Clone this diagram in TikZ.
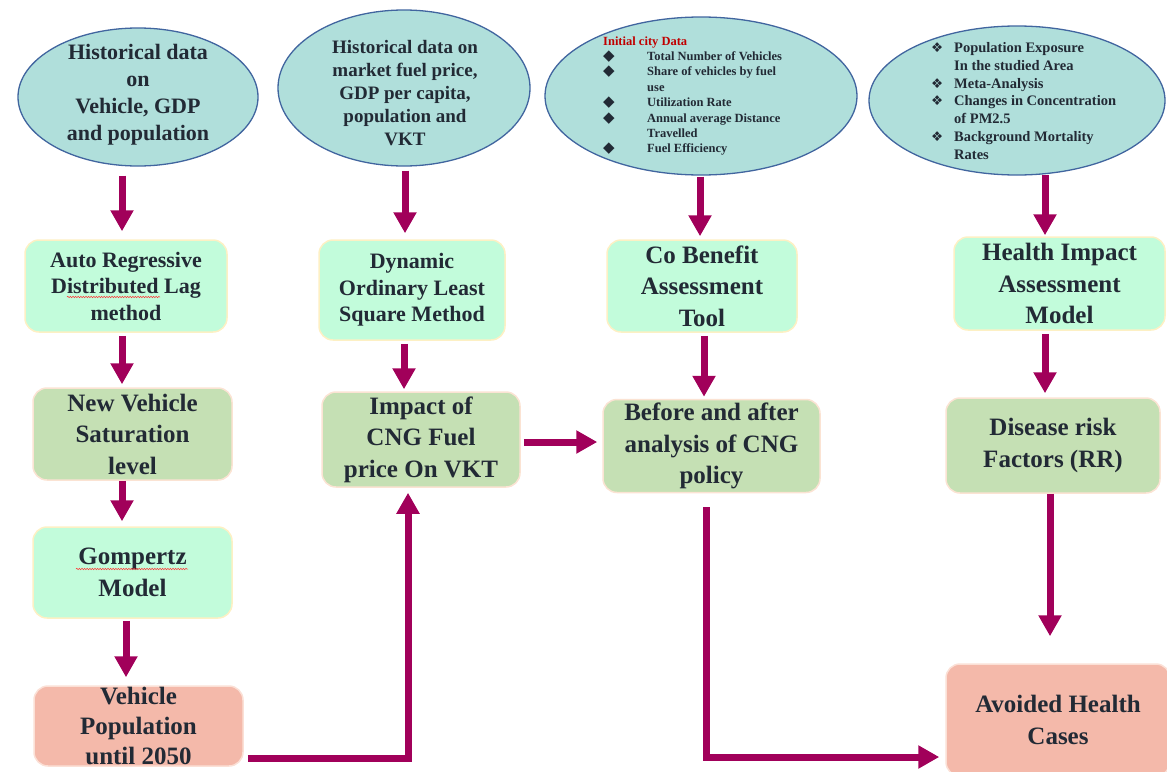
\documentclass[tikz,border=0pt]{standalone}
\usepackage{fontspec}
\setmainfont{Liberation Serif}
\newfontfamily\symfont{DejaVu Sans}
\usetikzlibrary{arrows.meta,decorations.pathmorphing,shapes.geometric}

\definecolor{ellfill}{HTML}{B0DFDB}
\definecolor{ellline}{HTML}{41659F}
\definecolor{mint}{HTML}{C2FCDB}
\definecolor{mintline}{HTML}{FDF0C4}
\definecolor{sage}{HTML}{C5E0B4}
\definecolor{sageline}{HTML}{FBE3D3}
\definecolor{salmon}{HTML}{F4B9AA}
\definecolor{salmonline}{HTML}{FBE0D6}
\definecolor{flow}{HTML}{A1005A}
\definecolor{ink}{HTML}{222A35}
\definecolor{titlered}{HTML}{C00000}

% bullets for the two listed data ellipses
\newcommand\cbul{\makebox[44pt][l]{{\symfont\fontsize{15}{15}\selectfont ◆}}}
\newcommand\cind{\hspace*{44pt}}
\newcommand\hbul{\makebox[23pt][l]{{\symfont\fontsize{13.5}{15}\selectfont ❖}}}
\newcommand\hind{\hspace*{23pt}}

\begin{document}
\begin{tikzpicture}[x=1pt,y=-1pt,
  every node/.style={text=ink, inner sep=0pt},
  datael/.style={ellipse, draw=ellline, line width=1.3pt, fill=ellfill},
  boxbase/.style={rectangle, rounded corners=14pt, line width=1.5pt, align=center,
    font=\bfseries\fontsize{25}{31.5}\selectfont},
  smalltext/.style={font=\bfseries\fontsize{22}{26.5}\selectfont},
  mintbox/.style={boxbase, fill=mint, draw=mintline},
  sagebox/.style={boxbase, fill=sage, draw=sageline},
  salmonbox/.style={boxbase, fill=salmon, draw=salmonline},
  arr/.style={draw=flow, line width=7pt, line join=miter,
    -{Triangle[width=22pt,length=21pt]}},
  squig/.style={draw=red!80, line width=0.5pt,
    decorate, decoration={snake, amplitude=0.7pt, segment length=2.6pt}}
]
\useasboundingbox (0,0) rectangle (1167,771);

% input data ellipses
\node[datael, minimum width=240, minimum height=138] (e1) at (138,97) {};
\node[datael, minimum width=252, minimum height=156] (e2) at (404,88) {};
\node[datael, minimum width=312, minimum height=158] (e3) at (701,96) {};
\node[datael, minimum width=296, minimum height=149] (e4) at (1017,100.5) {};

\node[align=center, font=\bfseries\fontsize{22}{27}\selectfont] (e1t) at (138,95)
  {Historical data\\on\\Vehicle, GDP\\and population};
\node[align=center, font=\bfseries\fontsize{19}{23}\selectfont] (e2t) at (405,93)
  {Historical data on\\market fuel price,\\GDP per capita,\\population and\\VKT};
\node[align=left, anchor=west, font=\bfseries\fontsize{12.5}{15.4}\selectfont] (e3t) at (603,96)
  {{\color{titlered}Initial city Data}\\
   \cbul Total Number of Vehicles\\
   \cbul Share of vehicles by fuel\\
   \cind use\\
   \cbul Utilization Rate\\
   \cbul Annual average Distance\\
   \cind Travelled\\
   \cbul Fuel Efficiency};
\node[align=left, anchor=west, font=\bfseries\fontsize{14.5}{17.7}\selectfont] (e4t) at (931,101)
  {\hbul Population Exposure\\
   \hind In the studied Area\\
   \hbul Meta-Analysis\\
   \hbul Changes in Concentration\\
   \hind of PM2.5\\
   \hbul Background Mortality\\
   \hind Rates};

% processing steps
\node[mintbox, smalltext, minimum width=202, minimum height=92] (b1) at (126,286)
  {Auto Regressive\\Distributed Lag\\method};
\node[sagebox, minimum width=199, minimum height=92] (b2) at (132.5,434)
  {New Vehicle\\Saturation\\level};
\node[mintbox, minimum width=199, minimum height=91] (b3) at (132.5,572.5)
  {Gompertz\\Model};
\node[salmonbox, minimum width=209, minimum height=80, font=\bfseries\fontsize{25}{30}\selectfont] (b4) at (138.5,726)
  {Vehicle\\Population\\until 2050};
\node[mintbox, smalltext, minimum width=186, minimum height=100] (b5) at (412,290)
  {Dynamic\\Ordinary Least\\Square Method};
\node[sagebox, minimum width=198, minimum height=95] (b6) at (421,439.5)
  {Impact of\\CNG Fuel\\price On VKT};
\node[mintbox, minimum width=190, minimum height=92] (b7) at (702,286)
  {Co Benefit\\Assessment\\Tool};
\node[sagebox, minimum width=217, minimum height=93] (b8) at (711.5,446)
  {Before and after\\analysis of CNG\\policy};
\node[mintbox, minimum width=211, minimum height=93] (b9) at (1059.5,283.5)
  {Health Impact\\Assessment\\Model};
\node[sagebox, minimum width=214, minimum height=95] (b10) at (1053,445.5)
  {Disease risk\\Factors (RR)};
\node[salmonbox, minimum width=224, minimum height=112] (b11) at (1058,720)
  {Avoided Health\\Cases};

% spell-check underlines
\draw[squig] (67,297) -- (160,297);
\draw[squig] (76,569) -- (188,569);

% connectors
\draw[arr, shorten <=9pt, shorten >=8pt] ([xshift=-16]e1.south) -- ([xshift=-16]e1.south |- b1.north);
\draw[arr, shorten <=3pt, shorten >=3pt] ([xshift=-4]b1.south) -- ([xshift=-4]b1.south |- b2.north);
\draw[arr, shorten >=5pt] ([xshift=-10.5]b2.south) -- ([xshift=-10.5]b2.south |- b3.north);
\draw[arr, shorten <=2pt, shorten >=8pt] ([xshift=-6.5]b3.south) -- ([xshift=-6.5]b3.south |- b4.north);

\draw[arr, shorten <=4pt, shorten >=6pt] ([xshift=1]e2.south) -- ([xshift=1]e2.south |- b5.north);
\draw[arr, shorten <=3pt, shorten >=2pt] ([xshift=-8]b5.south) -- ([xshift=-8]b5.south |- b6.north);

\draw[arr, shorten <=1pt, shorten >=3pt] ([xshift=-1]e3.south) -- ([xshift=-1]e3.south |- b7.north);
\draw[arr, shorten <=3pt, shorten >=2pt] ([xshift=2]b7.south) -- ([xshift=2]b7.south |- b8.north);

\draw[arr, shorten <=-1pt, shorten >=1pt] ([xshift=28]e4.south) -- ([xshift=28]e4.south |- b9.north);
\draw[arr, shorten <=3pt, shorten >=4pt] ([xshift=-14.5]b9.south) -- ([xshift=-14.5]b9.south |- b10.north);
\draw[arr, shorten >=27pt] ([xshift=-3]b10.south) -- ([xshift=-3]b10.south |- b11.north);

\draw[arr, shorten <=3pt, shorten >=5pt] ([yshift=-2.5]b6.east) -- ([yshift=-2.5]b6.east -| b8.west);
\draw[arr] ([xshift=4,yshift=-32]b4.east) -| ([xshift=-13,yshift=-5]b6.south);
\draw[arr] ([xshift=-5.5,yshift=-14]b8.south) |- ([xshift=-6,yshift=-37]b11.west);
\end{tikzpicture}
\end{document}
